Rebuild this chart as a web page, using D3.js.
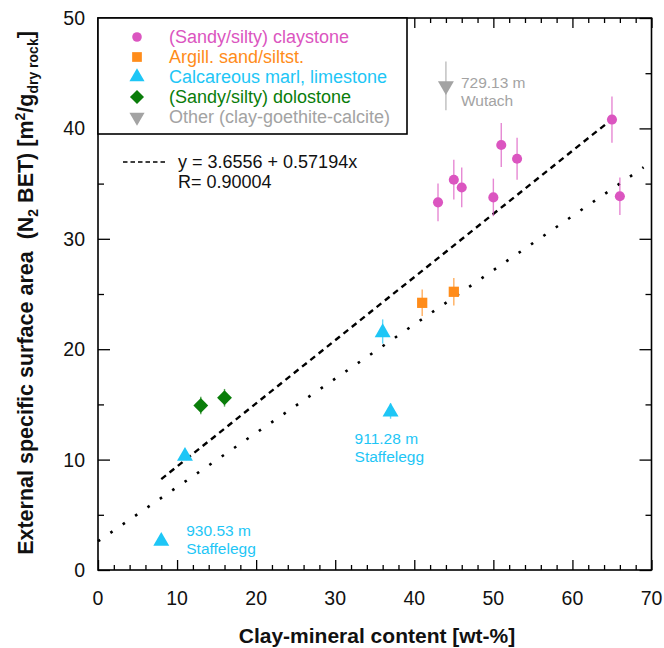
<!DOCTYPE html>
<html>
<head>
<meta charset="utf-8">
<script src="https://cdn.jsdelivr.net/npm/d3@7/dist/d3.min.js"></script>
<style>
  html, body { margin: 0; padding: 0; background: #fff; }
  svg { display: block; font-family: "Liberation Sans", Arial, Helvetica, sans-serif; }
</style>
</head>
<body>
<svg id="chart" width="664" height="648"></svg>
<script>
// ---- Data: clay-mineral content (wt-%) vs. N2-BET specific surface area ----
const clayX   = [43, 45, 46, 50, 51, 53, 65, 66];
const clayY   = [33.3, 35.35, 34.65, 33.75, 38.5, 37.25, 40.8, 33.85];
const clayErr = [1.7, 1.8, 1.8, 1.7, 2.0, 1.9, 2.1, 1.7];

const sandX   = [41, 45];
const sandY   = [24.2, 25.2];
const sandErr = [1.2, 1.25];

const calcX   = [8, 11, 36, 37];
const calcY   = [2.7, 10.4, 21.6, 14.4];
const calcErr = [0.3, 0.4, 1.1, 0.7];

const doloX   = [13, 16];
const doloY   = [14.9, 15.6];
const doloErr = [0.8, 0.8];

const otherX   = [44];
const otherY   = [43.85];
const otherErr = [2.2];

const seriesNames = ["(Sandy/silty) claystone", "Argill. sand/siltst.",
                     "Calcareous marl, limestone", "(Sandy/silty) dolostone",
                     "Other (clay-goethite-calcite)"];

// linear fit shown in the legend, and the lower dotted guide line
const fitIntercept = 3.6556, fitSlope = 0.57194, fitRange = [8, 65];
const fitLabel = "y = 3.6556 + 0.57194x";
const fitR = "R= 0.90004";
const lowIntercept = 2.6, lowSlope = 0.491, lowRange = [0, 69];

const xTicks = [0, 10, 20, 30, 40, 50, 60, 70];
const yTicks = [0, 10, 20, 30, 40, 50];

// ---- Layout ----
const svg = d3.select("#chart");
const L = 98, R = 651.5, T = 18, B = 570;
const x = d3.scaleLinear().domain([0, 70]).range([L, R]);
const y = d3.scaleLinear().domain([0, 50]).range([B, T]);

const colors = ["#db55c0", "#ff8c1a", "#1ec6f6", "#0a7d0a", "#a3a3a3"];
// circle, square, triangle, diamond (square turned 45°), down-triangle
const shapes = [d3.symbolCircle, d3.symbolSquare, d3.symbolTriangle, d3.symbolSquare, d3.symbolTriangle];
const turns  = [0, 0, 0, 45, 180];
const sizes  = [80, 105, 110, 110, 110];

const series = [
  {xs: clayX,  ys: clayY,  es: clayErr},
  {xs: sandX,  ys: sandY,  es: sandErr},
  {xs: calcX,  ys: calcY,  es: calcErr},
  {xs: doloX,  ys: doloY,  es: doloErr},
  {xs: otherX, ys: otherY, es: otherErr}
].map((s, i) => ({
  i, color: colors[i], shape: shapes[i], size: sizes[i], turn: turns[i],
  pts: s.xs.map((v, k) => ({x: v, y: s.ys[k], e: s.es[k]}))
}));

// ---- Axes: ticks on all four sides, pointing inward ----
const axisG = svg.append("g");
function ticksOn(axisGen, transform) {
  const g = axisG.append("g").attr("transform", transform).call(axisGen);
  g.select(".domain").remove();
  g.selectAll("line").attr("stroke", "#000").attr("stroke-width", 1.3);
  return g;
}
const xMinor = d3.range(0, 71, 2).filter(v => v % 10 !== 0);
const yMinor = d3.range(5, 50, 10);

// bottom
ticksOn(d3.axisTop(x).tickValues(xMinor).tickSize(5).tickFormat(""), `translate(0,${B})`);
ticksOn(d3.axisTop(x).tickValues(xTicks).tickSize(10).tickFormat(""), `translate(0,${B})`);
// top
ticksOn(d3.axisBottom(x).tickValues(xMinor).tickSize(5).tickFormat(""), `translate(0,${T})`);
ticksOn(d3.axisBottom(x).tickValues(xTicks).tickSize(10).tickFormat(""), `translate(0,${T})`);
// left
ticksOn(d3.axisRight(y).tickValues(yMinor).tickSize(6).tickFormat(""), `translate(${L},0)`);
ticksOn(d3.axisRight(y).tickValues(yTicks).tickSize(12).tickFormat(""), `translate(${L},0)`);
// right
ticksOn(d3.axisLeft(y).tickValues(yMinor).tickSize(6).tickFormat(""), `translate(${R},0)`);
ticksOn(d3.axisLeft(y).tickValues(yTicks).tickSize(12).tickFormat(""), `translate(${R},0)`);

// tick labels
axisG.append("g").selectAll("text").data(xTicks).join("text")
  .attr("x", d => x(d)).attr("y", 598)
  .attr("text-anchor", "middle").attr("dominant-baseline", "central")
  .attr("font-size", 19.5).attr("fill", "#111").text(d => d);
axisG.append("g").selectAll("text").data(yTicks).join("text")
  .attr("x", 85).attr("y", d => y(d))
  .attr("text-anchor", "end").attr("dominant-baseline", "central")
  .attr("font-size", 19.5).attr("fill", "#111").text(d => d);

// frame
svg.append("rect").attr("x", L).attr("y", T).attr("width", R - L).attr("height", B - T)
  .attr("fill", "none").attr("stroke", "#000").attr("stroke-width", 1.6);

// axis titles
svg.append("text").attr("x", 377).attr("y", 635)
  .attr("text-anchor", "middle").attr("dominant-baseline", "central")
  .attr("font-size", 21).attr("font-weight", "bold").attr("fill", "#111")
  .text("Clay-mineral content [wt-%]");

const yt = svg.append("text")
  .attr("transform", "translate(33,293) rotate(-90)")
  .attr("text-anchor", "middle")
  .attr("font-size", 21.5).attr("font-weight", "bold").attr("fill", "#111");
yt.append("tspan").text("External specific surface area\u00a0\u00a0(N");
yt.append("tspan").attr("font-size", 14).attr("dy", 5).text("2");
yt.append("tspan").attr("dy", -5).text(" BET) [m");
yt.append("tspan").attr("font-size", 14).attr("dy", -8).text("2");
yt.append("tspan").attr("dy", 8).text("/g");
yt.append("tspan").attr("font-size", 14).attr("dy", 5).text("dry rock");
yt.append("tspan").attr("dy", -5).text("]");

// ---- Fit lines ----
const line = d3.line().x(d => x(d[0])).y(d => y(d[1]));
svg.append("path")
  .datum(lowRange.map(v => [v, lowIntercept + lowSlope * v]))
  .attr("d", line).attr("fill", "none").attr("stroke", "#000")
  .attr("stroke-width", 2.6).attr("stroke-dasharray", "2.6,12.4");
svg.append("path")
  .datum(fitRange.map(v => [v, fitIntercept + fitSlope * v]))
  .attr("d", line).attr("fill", "none").attr("stroke", "#000")
  .attr("stroke-width", 2.4).attr("stroke-dasharray", "6,4.6");

// ---- Error bars and markers ----
const sym = (s, scale) => d3.symbol().type(s.shape).size(s.size * scale)();
series.forEach(s => {
  const g = svg.append("g");
  g.selectAll("line").data(s.pts).join("line")
    .attr("x1", d => x(d.x)).attr("x2", d => x(d.x))
    .attr("y1", d => y(d.y - d.e)).attr("y2", d => y(d.y + d.e))
    .attr("stroke", s.color).attr("stroke-opacity", 0.7).attr("stroke-width", 1.4);
  g.selectAll("path").data(s.pts).join("path")
    .attr("d", sym(s, 1))
    .attr("transform", d => `translate(${x(d.x)},${y(d.y)}) rotate(${s.turn})`
      + (s.i === 2 ? " translate(0,1)" : ""))
    .attr("fill", s.color);
});

// ---- Point annotations ----
const notes = [
  {s: 4, k: 0, dx: 15, dy: -3, lines: ["729.13 m", "Wutach"]},
  {s: 2, k: 3, dx: -36, dy: 27, lines: ["911.28 m", "Staffelegg"]},
  {s: 2, k: 0, dx: 25, dy: -9.5, lines: ["930.53 m", "Staffelegg"]}
];
notes.forEach(n => {
  const p = series[n.s].pts[n.k];
  svg.append("g").selectAll("text").data(n.lines).join("text")
    .attr("x", x(p.x) + n.dx).attr("y", (d, j) => y(p.y) + n.dy + j * 18)
    .attr("dominant-baseline", "central")
    .attr("font-size", 15.5).attr("fill", series[n.s].color).text(d => d);
});

// ---- Legend ----
const lg = svg.append("g");
lg.append("rect").attr("x", L).attr("y", T).attr("width", 407 - L).attr("height", 134 - T)
  .attr("fill", "#fff").attr("stroke", "#000").attr("stroke-width", 1.6);
series.forEach((s, i) => {
  const cy = 37 + i * 20;
  lg.append("path").attr("d", sym(s, 0.9))
    .attr("transform", `translate(137,${cy}) rotate(${s.turn})`)
    .attr("fill", s.color);
  lg.append("text").attr("x", 169).attr("y", cy)
    .attr("dominant-baseline", "central").attr("font-size", 18)
    .attr("fill", s.color).text(seriesNames[i]);
});

// fit legend
svg.append("line").attr("x1", 123).attr("x2", 168).attr("y1", 162).attr("y2", 162)
  .attr("stroke", "#000").attr("stroke-width", 1.6).attr("stroke-dasharray", "4.5,3");
svg.append("text").attr("x", 178).attr("y", 162).attr("dominant-baseline", "central")
  .attr("font-size", 18).attr("fill", "#111").text(fitLabel);
svg.append("text").attr("x", 178).attr("y", 182).attr("dominant-baseline", "central")
  .attr("font-size", 18).attr("fill", "#111").text(fitR);
</script>
</body>
</html>
